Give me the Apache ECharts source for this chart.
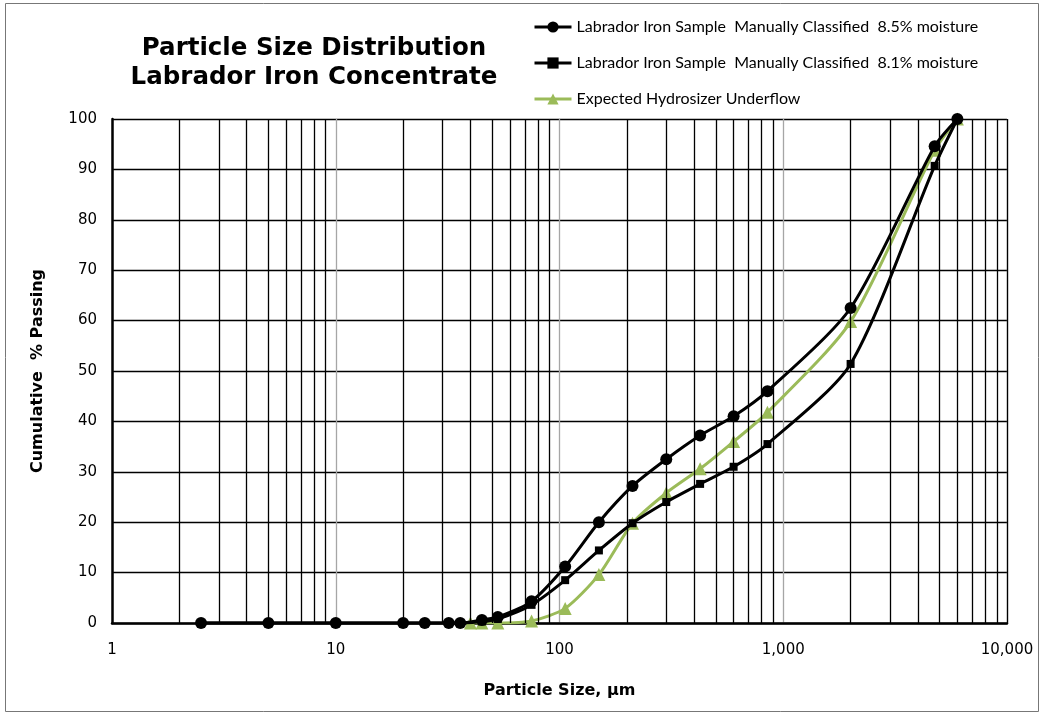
<!DOCTYPE html>
<html>
<head>
<meta charset="utf-8">
<script src="https://cdn.jsdelivr.net/npm/echarts@6/dist/echarts.min.js"></script>
<style>html,body{margin:0;padding:0;background:#fff}#c{width:1045px;height:716px}</style>
</head>
<body>
<div id="c"></div>
<script>
// Particle sizes (µm) and cumulative % passing
var sizes85 = [2.5, 5, 10, 20, 25, 32, 36, 45, 53, 75, 106, 150, 212, 300, 425, 600, 850, 2000, 4750, 6000];
var pass85  = [0, 0, 0, 0, 0, 0, 0, 0.6, 1.2, 4.3, 11.2, 20.0, 27.2, 32.5, 37.2, 41.0, 46.0, 62.5, 94.6, 100];
var sizes81 = [2.5, 5, 10, 20, 25, 32, 36, 45, 53, 75, 106, 150, 212, 300, 425, 600, 850, 2000, 4750, 6000];
var pass81  = [0, 0, 0, 0, 0, 0, 0, 0.3, 0.8, 3.6, 8.5, 14.4, 19.8, 24.0, 27.6, 31.0, 35.5, 51.4, 90.7, 100];
var sizesHU = [40, 45, 53, 75, 106, 150, 212, 300, 425, 600, 850, 2000, 4750, 6000];
var passHU  = [0, 0, 0, 0.4, 2.9, 9.6, 19.8, 25.8, 30.6, 36.0, 41.8, 59.8, 93.8, 100];
var minorGrid = [2,3,4,5,6,7,8,9,20,30,40,50,60,70,80,90,200,300,400,500,600,700,800,900,2000,3000,4000,5000,6000,7000,8000,9000,10000];
var seriesNames = ['Labrador Iron Sample  Manually Classified  8.5% moisture',
                   'Labrador Iron Sample  Manually Classified  8.1% moisture',
                   'Expected Hydrosizer Underflow'];

function pairs(xs, ys){ return xs.map(function(x,i){ return [x, ys[i]]; }); }

var chart = echarts.init(document.getElementById('c'));
chart.setOption({
  animation: false,
  backgroundColor: '#fff',
  title: {
    text: 'Particle Size Distribution\nLabrador Iron Concentrate',
    left: 309, top: 29, textAlign: 'center',
    textStyle: {fontFamily: 'DejaVu Sans', fontWeight: 'bold', fontSize: 24.5, lineHeight: 29, color: '#000'}
  },
  legend: {
    orient: 'vertical', left: 528, top: 14,
    itemWidth: 37, itemHeight: 14, itemGap: 20,
    data: seriesNames,
    lineStyle: {width: 3},
    textStyle: {fontFamily: 'Lato', fontSize: 16, color: '#000'}
  },
  graphic: [{type: 'rect', shape: {x: 5.5, y: 3.5, width: 1033, height: 708}, style: {fill: 'none', stroke: '#777', lineWidth: 1}, silent: true}],
  grid: {left: 112, right: 38, top: 119, bottom: 93},
  xAxis: {
    type: 'log', logBase: 10, min: 1, max: 10000,
    name: 'Particle Size, µm', nameLocation: 'middle', nameGap: 60,
    nameTextStyle: {fontFamily: 'DejaVu Sans', fontWeight: 'bold', fontSize: 16, color: '#000'},
    axisLine: {lineStyle: {color: '#000', width: 2.5}},
    axisTick: {show: false},
    axisLabel: {color: '#000', fontFamily: 'DejaVu Sans', fontSize: 15, margin: 20,
      formatter: function(v){ return Number(v).toLocaleString('en-US'); }},
    splitLine: {show: true, lineStyle: {color: '#a6a6a6', width: 1.3}}
  },
  yAxis: {
    type: 'value', min: 0, max: 100, interval: 10,
    name: 'Cumulative  % Passing', nameLocation: 'middle', nameGap: 66,
    nameTextStyle: {fontFamily: 'DejaVu Sans', fontWeight: 'bold', fontSize: 16, color: '#000'},
    axisLine: {show: true, lineStyle: {color: '#000', width: 2.5}},
    axisTick: {show: false},
    axisLabel: {color: '#000', fontFamily: 'DejaVu Sans', fontSize: 15, margin: 15},
    splitLine: {show: true, lineStyle: {color: '#000', width: 1.3}}
  },
  series: [
    {
      name: 'grid', type: 'line', data: [], silent: true, z: 1,
      markLine: {silent: true, symbol: 'none', label: {show: false},
        lineStyle: {color: '#000', width: 1.3, type: 'solid'},
        data: minorGrid.map(function(v){ return {xAxis: v}; })}
    },
    {
      name: seriesNames[2], type: 'line', data: pairs(sizesHU, passHU), smooth: 0.25, z: 3,
      symbol: 'triangle', symbolSize: 13,
      lineStyle: {color: '#9bbb59', width: 3}, itemStyle: {color: '#9bbb59'}
    },
    {
      name: seriesNames[1], type: 'line', data: pairs(sizes81, pass81), smooth: 0.25, z: 4,
      symbol: 'rect', symbolSize: 8,
      lineStyle: {color: '#000', width: 3}, itemStyle: {color: '#000'}
    },
    {
      name: seriesNames[0], type: 'line', data: pairs(sizes85, pass85), smooth: 0.25, z: 5,
      symbol: 'circle', symbolSize: 12,
      lineStyle: {color: '#000', width: 3}, itemStyle: {color: '#000'}
    }
  ]
});
</script>
</body>
</html>
